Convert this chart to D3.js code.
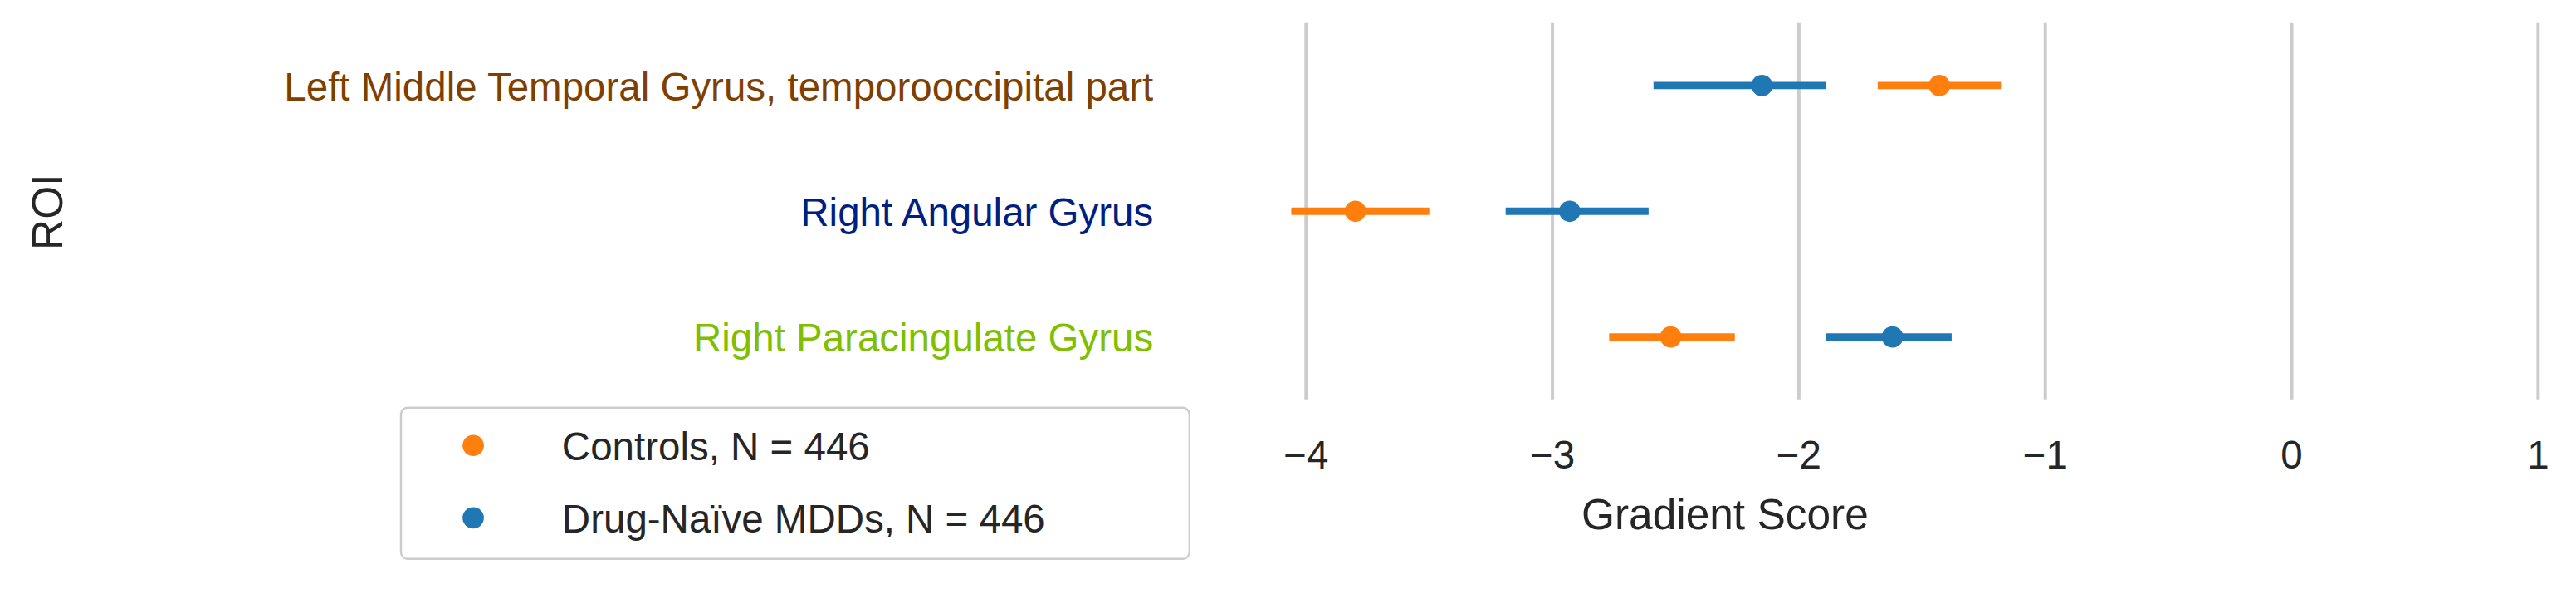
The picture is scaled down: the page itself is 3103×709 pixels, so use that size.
<!DOCTYPE html><html><head><meta charset="utf-8"><script src="https://cdn.jsdelivr.net/npm/d3@7"></script>
<style>body{margin:0;background:#fff}text{font-family:Arial,"Liberation Sans",sans-serif;fill:#262626}</style></head><body>
<svg id="c" width="3103" height="709" viewBox="0 0 1568 358.3"></svg>
<script>
const rois=["Left Middle Temporal Gyrus, temporooccipital part","Right Angular Gyrus","Right Paracingulate Gyrus"];
const roiColors=["#7f3f00","#00207f","#7fbf00"];
const groups=["Controls, N = 446","Drug-Naïve MDDs, N = 446"];
const groupColors=["#ff7f0e","#1f77b4"];
const ctrlMean=[-1.43,-3.80,-2.52], ctrlLo=[-1.68,-4.06,-2.77], ctrlHi=[-1.18,-3.50,-2.26];
const mddMean=[-2.15,-2.93,-1.62], mddLo=[-2.59,-3.19,-1.89], mddHi=[-1.89,-2.61,-1.38];
const ticks=[-4,-3,-2,-1,0,1];
const svg=d3.select("#c");
const x=d3.scaleLinear().domain([-4.15,1]).range([772.5,1545]);
const y=d3.scalePoint().domain(rois).range([52,205]);
const g=svg.append("g");
g.selectAll(".grid").data(ticks).join("line").attr("x1",d=>x(d)).attr("x2",d=>x(d)).attr("y1",14).attr("y2",243).attr("stroke","#cccccc").attr("stroke-width",2);
g.selectAll(".tick").data(ticks).join("text").attr("x",d=>x(d)).attr("y",285).attr("text-anchor","middle").attr("font-size",24).text(d=>d<0?"\u2212"+(-d):d);
svg.append("text").attr("x",x(-2.3)).attr("y",322).attr("text-anchor","middle").attr("font-size",26).text("Gradient Score");
svg.append("text").attr("transform","translate(38,129) rotate(-90)").attr("text-anchor","middle").attr("font-size",26).text("ROI");
svg.selectAll(".roi").data(rois).join("text").attr("x",702).attr("y",d=>y(d)+9).attr("text-anchor","end").attr("font-size",24).style("fill",(d,i)=>roiColors[i]).text(d=>d);
const series=[[ctrlMean,ctrlLo,ctrlHi],[mddMean,mddLo,mddHi]];
series.forEach(([m,lo,hi],si)=>{
  const c=groupColors[si];
  svg.selectAll(".ci"+si).data(rois).join("line").attr("x1",(d,i)=>x(lo[i])).attr("x2",(d,i)=>x(hi[i])).attr("y1",d=>y(d)).attr("y2",d=>y(d)).attr("stroke",c).attr("stroke-width",4.5);
  svg.selectAll(".pt"+si).data(rois).join("circle").attr("cx",(d,i)=>x(m[i])).attr("cy",d=>y(d)).attr("r",6.5).attr("fill",c);
});
const lg=svg.append("g");
lg.append("rect").attr("x",244).attr("y",248).attr("width",480).attr("height",92).attr("rx",4).attr("fill","#fff").attr("stroke","#cccccc").attr("stroke-width",1.2);
groups.forEach((gname,i)=>{
  lg.append("circle").attr("cx",288).attr("cy",271+i*44).attr("r",6.5).attr("fill",groupColors[i]);
  lg.append("text").attr("x",342).attr("y",280+i*44).attr("font-size",24).text(gname);
});
</script></body></html>
